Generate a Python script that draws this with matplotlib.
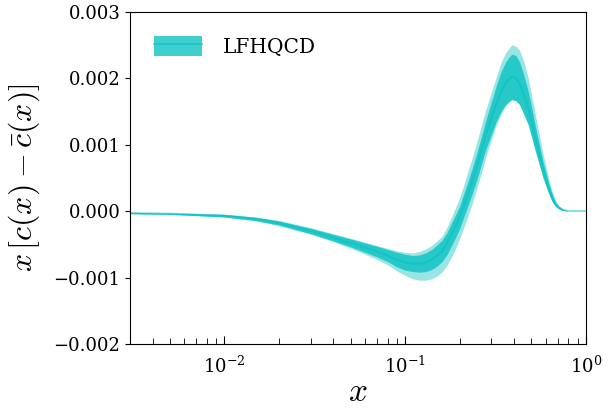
import matplotlib
matplotlib.use("Agg")
import matplotlib.pyplot as plt
import numpy as np

# values in units of 1e-3
x = [0.003, 0.005, 0.01, 0.015, 0.02, 0.03, 0.04, 0.05, 0.06, 0.07, 0.08, 0.09,
     0.1, 0.11, 0.12, 0.13, 0.14, 0.15, 0.16, 0.17, 0.18, 0.19, 0.2, 0.21, 0.22,
     0.235, 0.25, 0.265, 0.28, 0.30, 0.32, 0.34, 0.36, 0.375, 0.39, 0.41, 0.43,
     0.45, 0.48, 0.505, 0.53, 0.555, 0.58, 0.605, 0.63, 0.655, 0.68, 0.71, 0.74,
     0.8, 0.9, 1.0]
central = [-0.03, -0.04, -0.07, -0.12, -0.18, -0.30, -0.40, -0.48, -0.55, -0.61, -0.67, -0.73,
           -0.77, -0.79, -0.79, -0.77, -0.73, -0.67, -0.60, -0.49, -0.36, -0.23, -0.10, 0.06, 0.22,
           0.45, 0.68, 0.92, 1.15, 1.40, 1.62, 1.80, 1.92, 1.98, 2.02, 2.00, 1.92,
           1.78, 1.55, 1.30, 1.05, 0.83, 0.62, 0.45, 0.30, 0.18, 0.10, 0.05, 0.02,
           0.0, 0.0, 0.0]
inner_lo = [-0.04, -0.05, -0.09, -0.145, -0.21, -0.34, -0.45, -0.54, -0.62, -0.69, -0.76, -0.84,
            -0.89, -0.91, -0.92, -0.91, -0.88, -0.83, -0.76, -0.66, -0.53, -0.40, -0.27, -0.11, 0.04,
            0.26, 0.48, 0.71, 0.93, 1.15, 1.35, 1.50, 1.60, 1.65, 1.68, 1.66, 1.60,
            1.48, 1.30, 1.08, 0.87, 0.68, 0.50, 0.36, 0.23, 0.13, 0.07, 0.03, 0.01,
            0.0, 0.0, 0.0]
inner_hi = [-0.02, -0.03, -0.05, -0.095, -0.15, -0.26, -0.35, -0.42, -0.48, -0.53, -0.58, -0.62,
            -0.65, -0.67, -0.66, -0.63, -0.58, -0.51, -0.44, -0.33, -0.19, -0.06, 0.07, 0.24, 0.40,
            0.64, 0.88, 1.13, 1.37, 1.64, 1.89, 2.10, 2.24, 2.31, 2.36, 2.34, 2.24,
            2.08, 1.80, 1.52, 1.23, 0.98, 0.74, 0.55, 0.37, 0.24, 0.13, 0.07, 0.03,
            0.0, 0.0, 0.0]
outer_lo = [-0.04, -0.05, -0.09, -0.15, -0.22, -0.35, -0.46, -0.56, -0.65, -0.73, -0.81, -0.90,
            -0.97, -1.02, -1.04, -1.04, -1.02, -0.98, -0.92, -0.82, -0.70, -0.57, -0.42, -0.27, -0.12,
            0.11, 0.35, 0.58, 0.82, 1.07, 1.30, 1.46, 1.58, 1.63, 1.67, 1.66, 1.60,
            1.48, 1.30, 1.08, 0.87, 0.68, 0.50, 0.36, 0.23, 0.13, 0.07, 0.03, 0.01,
            0.0, 0.0, 0.0]
outer_hi = [-0.02, -0.03, -0.05, -0.09, -0.14, -0.25, -0.34, -0.41, -0.47, -0.52, -0.56, -0.60,
            -0.62, -0.63, -0.61, -0.57, -0.52, -0.45, -0.38, -0.25, -0.10, 0.05, 0.20, 0.37, 0.55,
            0.80, 1.05, 1.30, 1.53, 1.79, 2.02, 2.24, 2.38, 2.45, 2.50, 2.48, 2.42,
            2.28, 2.00, 1.70, 1.40, 1.12, 0.86, 0.64, 0.44, 0.28, 0.16, 0.08, 0.04,
            0.0, 0.0, 0.0]

plt.rcParams["font.family"] = "DejaVu Serif"
plt.rcParams["mathtext.fontset"] = "cm"

scale = 1e-3
x = np.array(x)
fig = plt.figure(figsize=(6.16, 4.12), dpi=100)
ax = fig.add_axes([0.211, 0.165, 0.740, 0.807])

ax.fill_between(x, np.array(outer_lo)*scale, np.array(outer_hi)*scale, color="c", alpha=0.4, lw=0)
inner = ax.fill_between(x, np.array(inner_lo)*scale, np.array(inner_hi)*scale, color="c", alpha=0.75, lw=0)
line, = ax.plot(x, np.array(central)*scale, color="c", alpha=0.45, lw=1.5)

ax.set_xscale("log")
ax.set_xlim(0.003, 1.0)
ax.set_ylim(-0.002, 0.003)
ax.set_yticks([-0.002, -0.001, 0.0, 0.001, 0.002, 0.003])
ax.yaxis.set_major_formatter(matplotlib.ticker.FuncFormatter(
    lambda v, pos: ("%.3f" % v).replace("-", "\u2212")))
ax.tick_params(axis="x", which="both", direction="in", labelsize=13, pad=8)
ax.tick_params(axis="y", labelsize=13)
ax.tick_params(axis="x", which="major", length=6)
ax.tick_params(axis="x", which="minor", length=4)

ax.set_xlabel("$x$", fontsize=24, labelpad=0)
ax.set_ylabel(r"$x\,[c(x)-\bar{c}(x)]$", fontsize=23, labelpad=8)

ax.legend([(inner, line)], ["LFHQCD"], loc="upper left", frameon=False,
          fontsize=14.5, handlelength=2.4, handleheight=1.2, handletextpad=1.0,
          borderaxespad=0.8)

fig.savefig("out.png", dpi=100)
